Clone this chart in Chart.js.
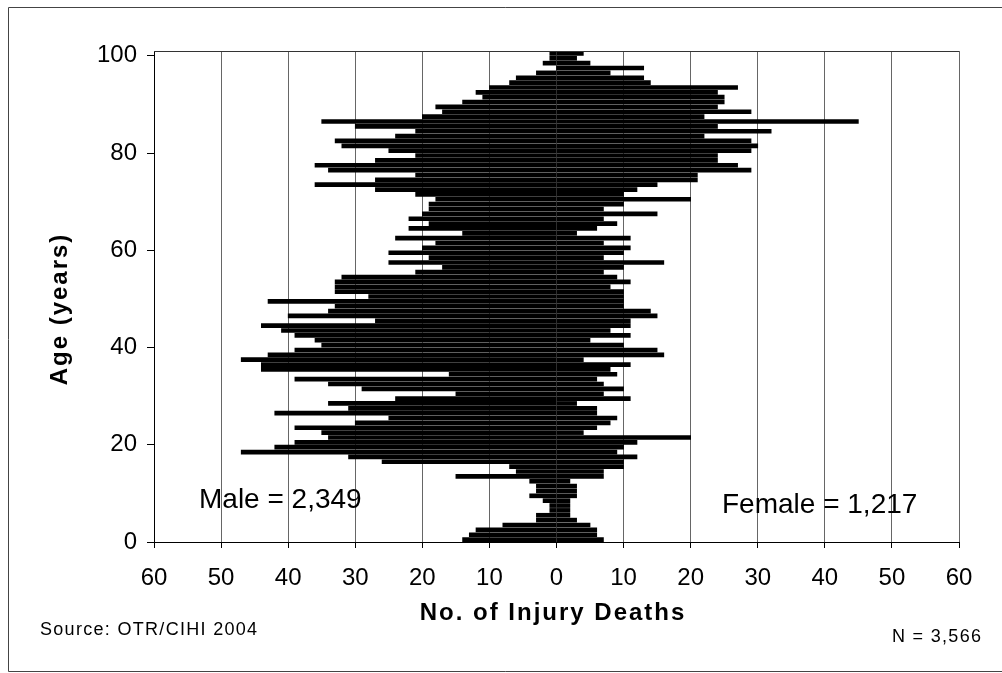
<!DOCTYPE html>
<html>
<head>
<meta charset="utf-8">
<title>Injury Deaths by Age</title>
<script src="https://cdn.jsdelivr.net/npm/chart.js@4.4.1/dist/chart.umd.min.js"></script>
<style>
  html,body{margin:0;padding:0;background:#fff;}
  #wrap{width:1002px;height:673px;}
</style>
</head>
<body>
<div id="wrap"><canvas id="chartPyramid" width="1002" height="673"></canvas></div>
<script>
// ======================= DATA =======================
const ages = Array.from({length:101},(_,i)=>i);   // 0 .. 100
const male = [
  14,13,12,8,3,3,1,1,2,4, 3,3,4,15,6,7,26,31,47,42,
  39,34,35,39,30,25,42,31,34,24, 15,29,34,39,16,44,44,47,43,39,
  35,36,39,41,44,27,40,34,33,43, 28,33,33,33,32,21,17,25,19,25,
  20,18,24,14,22,19,22,20,19,19, 18,21,27,36,27,21,34,36,27,21,
  25,32,33,24,21,30,35,20,17,18, 14,11,12,10,7,6,3,0,2,1,
  1
];
const female = [
  7,6,6,5,3,2,2,2,2,3, 3,3,2,7,7,10,10,12,9,10,
  12,20,4,6,8,9,6,6,3,11, 7,10,7,6,9,8,11,4,16,15,
  10,5,11,8,11,11,15,14,10,10, 10,10,8,11,9,7,10,16,7,10,
  11,7,11,3,6,9,7,15,7,10, 20,10,12,15,21,21,29,27,24,24,
  29,30,29,22,32,24,45,22,29,24, 25,25,24,27,14,13,8,13,5,3,
  4
];
const xTicks = [-60,-50,-40,-30,-20,-10,0,10,20,30,40,50,60];
const yTicks = [0,20,40,60,80,100];

const FONT = "'Liberation Sans', Arial, sans-serif";

// ======================= TEXT + FRAME =======================
function txt(ctx, s, x, y, font, align, spacing){
  ctx.font = font; ctx.textAlign = align; ctx.textBaseline = "middle";
  if("letterSpacing" in ctx) ctx.letterSpacing = spacing || "0px";
  ctx.fillText(s, x, y);
}

const labelsPlugin = {
  id:"labelsPlugin",
  beforeDatasetsDraw(chart){
    const ctx = chart.ctx;
    ctx.save(); ctx.fillStyle = "#000";
    txt(ctx, "Male = 2,349", 199, 500, "28px "+FONT, "left");
    txt(ctx, "Female = 1,217", 722, 505, "28px "+FONT, "left");
    ctx.restore();
  },
  afterDraw(chart){
    const ctx = chart.ctx, a = chart.chartArea;
    ctx.save(); ctx.fillStyle = "#000";
    // plot top line
    ctx.strokeStyle = "#333"; ctx.lineWidth = 1;
    ctx.beginPath(); ctx.moveTo(a.left, Math.round(a.top)+0.5); ctx.lineTo(a.right, Math.round(a.top)+0.5); ctx.stroke();
    // outer frame (right edge is cut off in the original)
    ctx.strokeStyle = "#444";
    ctx.beginPath();
    ctx.moveTo(1002, 7.5); ctx.lineTo(8.5, 7.5); ctx.lineTo(8.5, 671.5); ctx.lineTo(1002, 671.5);
    ctx.stroke();
    // titles
    txt(ctx, "No. of Injury Deaths", 553, 613, "bold 24px "+FONT, "center", "2px");
    txt(ctx, "Source: OTR/CIHI 2004", 40, 630, "18px "+FONT, "left", "1.3px");
    txt(ctx, "N = 3,566", 892, 637, "18px "+FONT, "left", "1.3px");
    ctx.translate(60, 309); ctx.rotate(-Math.PI/2);
    txt(ctx, "Age (years)", 0, 0, "bold 24px "+FONT, "center", "2px");
    ctx.restore();
  }
};

// ======================= CHART =======================
const barData = (vals, sign)=>ages.map((a,i)=>({x: sign*vals[i], y: a+0.5}));

new Chart(document.getElementById("chartPyramid"),{
  type:"bar",
  data:{
    datasets:[
      {label:"Male", data:barData(male,-1), backgroundColor:"#000", barThickness:4, borderWidth:0},
      {label:"Female", data:barData(female,1), backgroundColor:"#000", barThickness:4, borderWidth:0}
    ]
  },
  options:{
    indexAxis:"y",
    responsive:false,
    animation:false,
    devicePixelRatio:1,
    layout:{padding:{left:0, top:51, right:43, bottom:0}},
    plugins:{legend:{display:false}, tooltip:{enabled:false}},
    scales:{
      x:{
        type:"linear", min:-60, max:60, stacked:true, z:1, offset:false,
        afterBuildTicks:s=>{ s.ticks = xTicks.map(v=>({value:v})); },
        afterFit:s=>{ s.height = 131; },
        ticks:{color:"#000", font:{family:FONT, size:24}, padding:16, callback:v=>Math.abs(v)},
        grid:{color:"#666", lineWidth:1, tickLength:6, tickColor:"#000", offset:false},
        border:{display:true, color:"#000", width:1}
      },
      y:{
        type:"linear", min:0, max:101, stacked:true, offset:false,
        afterBuildTicks:s=>{ s.ticks = yTicks.map(v=>({value:v})); },
        afterFit:s=>{ s.width = 154; },
        ticks:{color:"#000", font:{family:FONT, size:24}, padding:10},
        grid:{drawOnChartArea:false, tickLength:7, color:"#000", offset:false},
        border:{display:true, color:"#000", width:1}
      }
    }
  },
  plugins:[labelsPlugin]
});
</script>
</body>
</html>
